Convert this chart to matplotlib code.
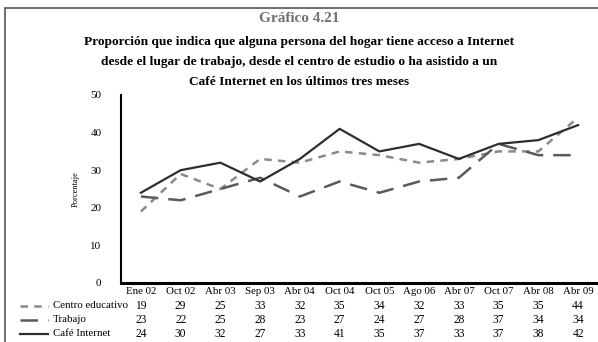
import matplotlib.pyplot as plt
import matplotlib.transforms as mtransforms
from matplotlib.lines import Line2D
from matplotlib.patches import Rectangle
import numpy as np

plt.rcParams['font.family'] = ['Liberation Serif', 'DejaVu Serif']

periodos = ['Ene 02', 'Oct 02', 'Abr 03', 'Sep 03', 'Abr 04', 'Oct 04',
            'Oct 05', 'Ago 06', 'Abr 07', 'Oct 07', 'Abr 08', 'Abr 09']
centro_educativo = [19, 29, 25, 33, 32, 35, 34, 32, 33, 35, 35, 44]
trabajo = [23, 22, 25, 28, 23, 27, 24, 27, 28, 37, 34, 34]
cafe_internet = [24, 30, 32, 27, 33, 41, 35, 37, 33, 37, 38, 42]

series = [
    ('Centro educativo', centro_educativo, dict(color='#8a8a8a', lw=1.8, dashes=(3, 2.5))),
    ('Trabajo', trabajo, dict(color='#5a5a5a', lw=1.8, dashes=(7, 4))),
    ('Café Internet', cafe_internet, dict(color='#2e2e2e', lw=1.6)),
]

W, H = 598, 342
fig = plt.figure(figsize=(W / 100, H / 100), dpi=100)
ax = fig.add_axes([121 / W, 1 - 283 / H, 477 / W, 188 / H])

x = np.arange(len(periodos))
for nombre, valores, estilo in series:
    ax.plot(x, valores, **estilo)

ax.set_xlim(-0.5, len(periodos) - 0.5)
ax.set_ylim(0, 50)
ax.set_yticks(range(0, 51, 10))
ax.set_xticks([])
ax.tick_params(axis='y', length=0, labelsize=8, pad=14)
for s in ['top', 'right']:
    ax.spines[s].set_visible(False)
ax.spines['left'].set_linewidth(1.5)
ax.spines['bottom'].set_linewidth(2.2)
ax.set_ylabel('Porcentaje', fontsize=6, labelpad=8)

# tabla de datos bajo el eje
tr = mtransforms.blended_transform_factory(ax.transData, fig.transFigure)
for i, p in enumerate(periodos):
    fig.text(i, 1 - 292 / H, p, transform=tr, ha='center', va='center', fontsize=7.8)
filas_y = [306, 320, 334]
for (nombre, valores, estilo), fy in zip(series, filas_y):
    yf = 1 - fy / H
    for i, v in enumerate(valores):
        fig.text(i, yf, str(v), transform=tr, ha='center', va='center', fontsize=8.3)
    fig.add_artist(Line2D([20 / W, 48 / W], [yf, yf], transform=fig.transFigure, **estilo))
    fig.text(53 / W, yf, nombre, ha='left', va='center', fontsize=7.8)

# títulos
fig.text(0.5, 1 - 19 / H, 'Gráfico 4.21', ha='center', va='center',
         fontsize=11, color='#707070', fontweight='bold')
titulo = ['Proporción que indica que alguna persona del hogar tiene acceso a Internet',
          'desde el lugar de trabajo, desde el centro de estudio o ha asistido a un',
          'Café Internet en los últimos tres meses']
for linea, ty in zip(titulo, [42, 62, 82]):
    fig.text(0.5, 1 - ty / H, linea, ha='center', va='center',
             fontsize=9.6, fontweight='bold')

# marco
fig.add_artist(Rectangle((5 / W, -0.1), 1.1, 1.1 - 8 / H,
                         transform=fig.transFigure, fill=False,
                         edgecolor='#555555', lw=1.2))

fig.savefig('out.png', dpi=100)
